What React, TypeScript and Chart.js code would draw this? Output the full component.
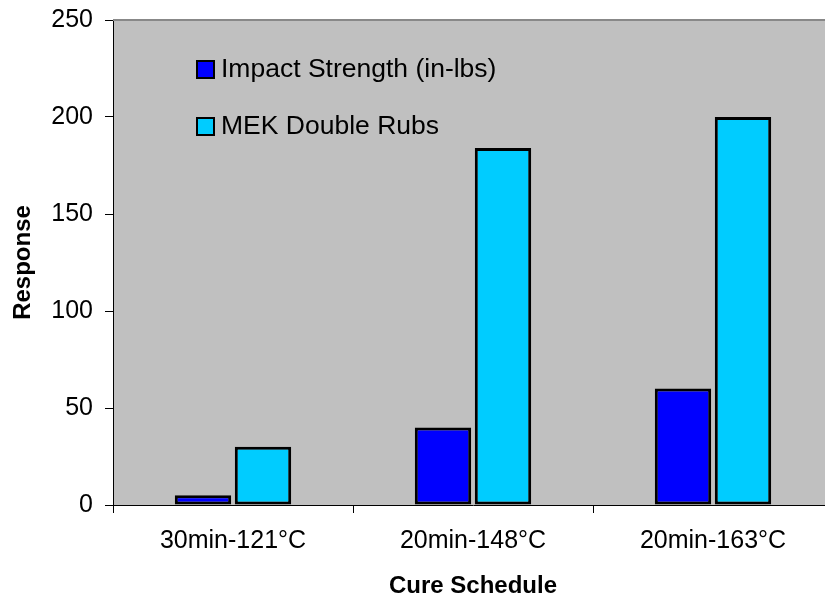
import React, { useEffect, useRef } from "react";
import { Chart, registerables } from "chart.js";

Chart.register(...registerables);

const categories = ["30min-121°C", "20min-148°C", "20min-163°C"];
const impactStrength = [5, 40, 60];
const mekDoubleRubs = [30, 184, 200];
const seriesNames = ["Impact Strength (in-lbs)", "MEK Double Rubs"];
const seriesColors = ["#0000FF", "#00CCFF"];
const yTicks = [0, 50, 100, 150, 200, 250];

const FONT = "'Liberation Sans', Arial, sans-serif";

const plotBg = {
  id: "plotBg",
  beforeDraw(chart: any) {
    const { ctx, chartArea: a } = chart;
    ctx.save();
    ctx.fillStyle = "#C0C0C0";
    ctx.fillRect(a.left, a.top, a.right - a.left, a.bottom - a.top);
    ctx.restore();
  },
  afterDraw(chart: any) {
    const { ctx, chartArea: a } = chart;
    ctx.save();
    ctx.strokeStyle = "#888888";
    ctx.lineWidth = 2;
    ctx.beginPath();
    ctx.moveTo(a.left, a.top);
    ctx.lineTo(a.right, a.top);
    ctx.stroke();
    // legend inside plot area
    const ds = chart.data.datasets;
    ctx.font = `26.5px ${FONT}`;
    ctx.textBaseline = "middle";
    ctx.textAlign = "left";
    ds.forEach((d: any, i: number) => {
      const bx = a.left + 84;
      const by = a.top + 41 + i * 57;
      ctx.fillStyle = d.backgroundColor;
      ctx.fillRect(bx, by, 17, 17);
      ctx.strokeStyle = "#000";
      ctx.lineWidth = 2;
      ctx.strokeRect(bx, by, 17, 17);
      ctx.fillStyle = "#000";
      ctx.fillText(d.label, bx + 24, by + 9);
    });
    ctx.restore();
  },
};

export default function App() {
  const ref = useRef<HTMLCanvasElement>(null);
  useEffect(() => {
    if (!ref.current) return;
    const chart = new Chart(ref.current, {
      type: "bar",
      data: {
        labels: categories,
        datasets: [
          {
            label: seriesNames[0],
            data: impactStrength,
            backgroundColor: seriesColors[0],
            borderColor: "#000",
            borderWidth: 3,
            borderSkipped: false,
          },
          {
            label: seriesNames[1],
            data: mekDoubleRubs,
            backgroundColor: seriesColors[1],
            borderColor: "#000",
            borderWidth: 3,
            borderSkipped: false,
          },
        ],
      },
      options: {
        responsive: false,
        animation: false,
        layout: { padding: { top: 20, left: 0, right: 0, bottom: 0 } },
        datasets: { bar: { categoryPercentage: 0.5, barPercentage: 0.94 } },
        plugins: { legend: { display: false }, tooltip: { enabled: false } },
        scales: {
          x: {
            afterFit: (s: any) => {
              s.height = 93;
              s.paddingLeft = 0;
              s.paddingRight = 0;
            },
            grid: {
              offset: true,
              drawOnChartArea: false,
              tickLength: 8,
              color: "#000",
            },
            border: { color: "#000", width: 1 },
            ticks: {
              color: "#000",
              padding: 13,
              font: { family: FONT, size: 25 },
              maxRotation: 0,
            },
            title: {
              display: true,
              text: "Cure Schedule",
              color: "#000",
              font: { family: FONT, size: 24, weight: "bold", lineHeight: 1 },
              padding: { top: 0, bottom: 0 },
            },
          },
          y: {
            min: 0,
            max: 250,
            afterFit: (s: any) => {
              s.width = 113;
              s.paddingTop = 0;
              s.paddingBottom = 0;
            },
            afterBuildTicks: (s: any) => {
              s.ticks = yTicks.map((v) => ({ value: v }));
            },
            grid: { drawOnChartArea: false, tickLength: 8, color: "#000" },
            border: { color: "#000", width: 1 },
            ticks: {
              color: "#000",
              padding: 12,
              font: { family: FONT, size: 25 },
            },
            title: {
              display: true,
              text: "Response",
              color: "#000",
              font: { family: FONT, size: 24, weight: "bold", lineHeight: 1.2 },
              padding: { top: 9, bottom: 0 },
            },
          },
        },
      },
      plugins: [plotBg],
    });
    return () => chart.destroy();
  }, []);
  return (
    <div
      style={{
        position: "fixed",
        left: 0,
        top: 0,
        width: 825,
        height: 598,
        overflow: "hidden",
        background: "#fff",
      }}
    >
      <canvas
        ref={ref}
        width={833}
        height={598}
        style={{ display: "block", width: 833, height: 598 }}
      />
    </div>
  );
}
